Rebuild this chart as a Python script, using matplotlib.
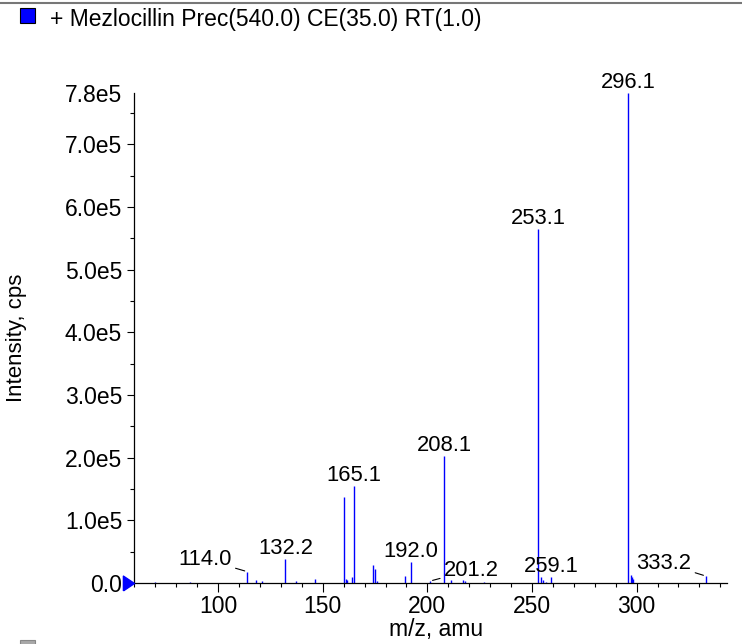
import matplotlib
matplotlib.use("Agg")
import matplotlib.pyplot as plt
from matplotlib.lines import Line2D
from matplotlib.patches import Rectangle
from matplotlib.ticker import FixedLocator, MultipleLocator

plt.rcParams["font.family"] = ["Liberation Sans", "DejaVu Sans"]

TITLE = "+ Mezlocillin Prec(540.0) CE(35.0) RT(1.0)"

# peak list (m/z, intensity in cps)
mz = [69.7, 86.8, 114.0, 118.3, 121.0, 132.2, 137.4, 146.5, 160.2, 161.1,
      161.6, 164.0, 165.1, 174.0, 175.0, 176.0, 189.1, 192.0, 201.2, 208.1,
      211.4, 217.1, 217.9, 227.1, 253.1, 254.5, 255.3, 256.6, 259.1, 296.1,
      297.1, 297.6, 298.1, 333.2]
intensity = [0.01e5, 0.01e5, 0.18e5, 0.05e5, 0.03e5, 0.38e5, 0.03e5, 0.06e5,
             1.38e5, 0.06e5, 0.05e5, 0.10e5, 1.55e5, 0.29e5, 0.22e5, 0.03e5,
             0.11e5, 0.33e5, 0.03e5, 2.03e5, 0.05e5, 0.05e5, 0.03e5, 0.02e5,
             5.65e5, 0.09e5, 0.05e5, 0.02e5, 0.09e5, 7.82e5, 0.13e5, 0.10e5,
             0.06e5, 0.11e5]

# labelled peaks: plain ones sit on top, the others get a leader line
top_labels = [132.2, 165.1, 192.0, 208.1, 253.1, 259.1, 296.1]
leader_labels = [114.0, 201.2, 333.2]
leader_offsets = [(-11.5, 9), (10.3, 8), (-10.8, 9.4)]

y_ticks = [0, 1e5, 2e5, 3e5, 4e5, 5e5, 6e5, 7e5]
y_tick_labels = ["0.0", "1.0e5", "2.0e5", "3.0e5", "4.0e5", "5.0e5", "6.0e5", "7.0e5"]
y_max = 7.82e5
y_max_label = "7.8e5"
x_ticks = [100, 150, 200, 250, 300]
x_range = (59.8, 343.2)


def main() -> None:
    fig = plt.figure(figsize=(7.42, 6.44), dpi=100)
    ax = fig.add_axes([134 / 742, 1 - 583 / 644, 593 / 742, 490 / 644])

    ax.vlines(mz, 0, intensity, colors="#0000ff", lw=1.0, zorder=2)

    lookup = dict(zip(mz, intensity))
    for m in top_labels:
        ax.annotate(f"{m:.1f}", (m, lookup[m]), textcoords="offset points",
                    xytext=(0, 3.6), ha="center", va="baseline", fontsize=15.8)
    for m, off in zip(leader_labels, leader_offsets):
        ax.annotate(f"{m:.1f}", (m, lookup[m]), textcoords="offset points",
                    xytext=off, ha="right" if off[0] < 0 else "left",
                    va="center", fontsize=15.8,
                    arrowprops=dict(arrowstyle="-", color="black", lw=0.8,
                                    shrinkA=1, shrinkB=2))

    ax.set_xlim(*x_range)
    ax.set_ylim(0, y_max)
    for side in ("top", "right"):
        ax.spines[side].set_visible(False)
    for side in ("left", "bottom"):
        ax.spines[side].set_linewidth(0.9)

    ax.xaxis.set_major_locator(FixedLocator(x_ticks))
    ax.xaxis.set_minor_locator(MultipleLocator(10))
    ax.yaxis.set_major_locator(FixedLocator(y_ticks + [y_max]))
    ax.set_yticklabels(y_tick_labels + [y_max_label])
    ax.yaxis.set_minor_locator(MultipleLocator(0.5e5))
    ax.yaxis.get_major_ticks()[-1].tick1line.set_visible(False)

    ax.tick_params(axis="both", which="both", direction="out", width=0.8,
                   labelsize=16.5)
    ax.tick_params(axis="x", which="major", length=6.5, pad=2)
    ax.tick_params(axis="y", which="major", length=5, pad=3.5)
    ax.tick_params(axis="both", which="minor", length=3)

    ax.set_xlabel("m/z, amu", fontsize=16.5)
    ax.set_ylabel("Intensity, cps", fontsize=16)
    ax.xaxis.set_label_coords(0.51, -0.072)
    ax.yaxis.set_label_coords(-0.18, 0.5)

    # blue marker at the zero line on the left axis
    ax.plot([x_range[0]], [0], marker=[(-1.5, -1), (0, 0), (-1.5, 1), (-1.5, -1)],
            markersize=16, color="#0000ff", clip_on=False, zorder=5)

    # panel header: separator line, colour box and title
    fig.add_artist(Line2D([0, 1], [1 - 2.5 / 644] * 2, color="#777777", lw=1.5))
    fig.add_artist(Rectangle((20 / 742, 1 - 23.3 / 644), 15 / 742, 15 / 644,
                             facecolor="#0000ff", edgecolor="black", lw=0.8))
    fig.text(50 / 742, 1 - 26 / 644, TITLE, fontsize=16.5, va="baseline")

    # start of the next panel's colour box at the bottom edge
    fig.add_artist(Rectangle((20 / 742, -11 / 644), 15 / 742, 15 / 644,
                             facecolor="#a8a8a8", edgecolor="#888888", lw=0.8))

    fig.savefig("out.png", dpi=100)
    plt.close(fig)


if __name__ == "__main__":
    main()
